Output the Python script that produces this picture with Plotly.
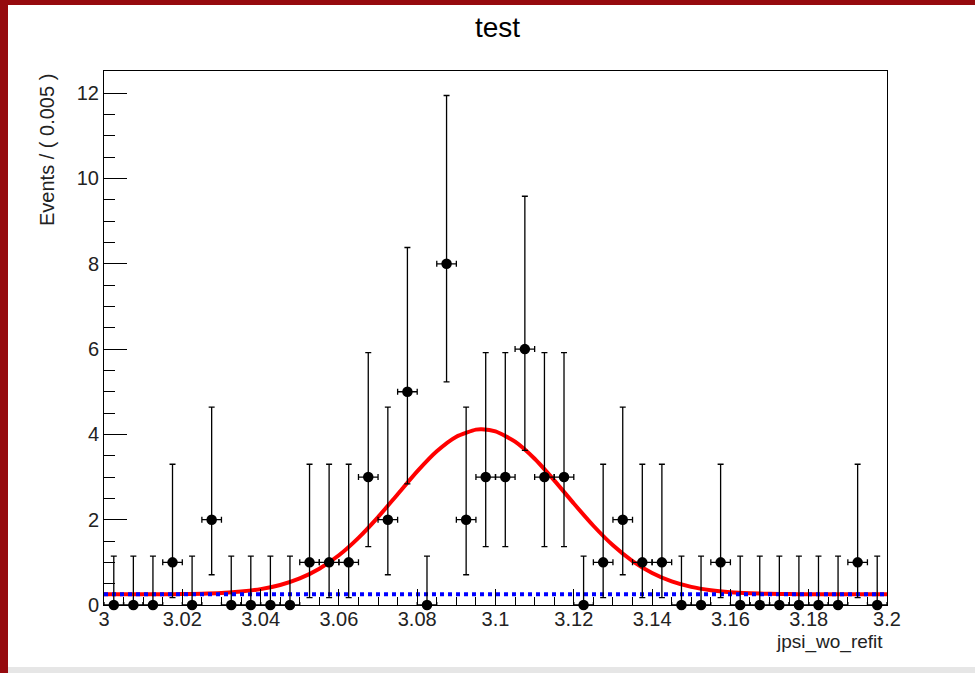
import plotly.graph_objects as go

# ---- data ----
bin_start = 3.0
bin_width = 0.005
counts = [0, 0, 0, 1, 0, 2, 0, 0, 0, 0,
          1, 1, 1, 3, 2, 5, 0, 8, 2, 3,
          3, 6, 3, 3, 0, 1, 2, 1, 1, 0,
          0, 1, 0, 0, 0, 0, 0, 0, 1, 0]
# Poisson (Garwood) error sizes indexed by count
poisson_lo = [0.0, 0.827, 1.291, 1.633, 1.914, 2.160, 2.374, 2.571, 2.768]
poisson_hi = [1.148, 2.300, 2.638, 2.918, 3.163, 3.382, 3.583, 3.770, 3.945]

curve_x = [3.000, 3.005, 3.010, 3.015, 3.020, 3.025, 3.030, 3.035, 3.040, 3.045,
           3.050, 3.055, 3.060, 3.065, 3.070, 3.075, 3.080, 3.085, 3.090, 3.095,
           3.0965, 3.100, 3.105, 3.110, 3.115, 3.120, 3.125, 3.130, 3.135, 3.140,
           3.145, 3.150, 3.155, 3.160, 3.165, 3.170, 3.175, 3.180, 3.185, 3.190,
           3.195, 3.200]
curve_y = [0.250, 0.251, 0.251, 0.253, 0.257, 0.265, 0.282, 0.315, 0.372, 0.470,
           0.623, 0.851, 1.166, 1.574, 2.061, 2.597, 3.133, 3.604, 3.947, 4.111,
           4.120, 4.069, 3.829, 3.428, 2.923, 2.380, 1.858, 1.399, 1.029, 0.750,
           0.554, 0.425, 0.346, 0.299, 0.274, 0.261, 0.255, 0.252, 0.251, 0.250,
           0.250, 0.250]
bkg_x = [3.0, 3.2]
bkg_y = [0.25, 0.25]

x_ticks = [3.0, 3.02, 3.04, 3.06, 3.08, 3.1, 3.12, 3.14, 3.16, 3.18, 3.2]
x_ticktext = ["3", "3.02", "3.04", "3.06", "3.08", "3.1", "3.12", "3.14", "3.16", "3.18", "3.2"]
y_ticks = [0, 2, 4, 6, 8, 10, 12]

# ---- derived ----
centers = [bin_start + bin_width * (i + 0.5) for i in range(len(counts))]
err_hi = [poisson_hi[c] for c in counts]
err_lo = [poisson_lo[c] for c in counts]
half_w = [bin_width / 2] * len(counts)

FONT = "Liberation Sans, Arial, Helvetica, sans-serif"

fig = go.Figure()

fig.add_trace(go.Scatter(
    x=curve_x, y=curve_y, mode="lines",
    line=dict(color="#ff0000", width=4, shape="spline", smoothing=0.6),
    hoverinfo="skip", showlegend=False))

fig.add_trace(go.Scatter(
    x=bkg_x, y=bkg_y, mode="lines",
    line=dict(color="#0000ff", width=4, dash="4px,4px"),
    hoverinfo="skip", showlegend=False))

fig.add_trace(go.Scatter(
    x=centers, y=counts, mode="markers",
    marker=dict(color="black", size=10.5, symbol="circle"),
    error_y=dict(type="data", symmetric=False, array=err_hi, arrayminus=err_lo,
                 color="black", thickness=1.3, width=3),
    error_x=dict(type="data", array=half_w, color="black", thickness=1.3, width=3),
    cliponaxis=False, showlegend=False))

W, H = 975, 673
L, R, T, B = 104, 887, 71, 605
pw, ph = R - L, B - T

def px(xp):
    return (xp - L) / pw

def py(yp):
    return (B - yp) / ph

fig.update_layout(
    width=W, height=H,
    margin=dict(l=L, r=W - R, t=T, b=H - B, pad=0),
    paper_bgcolor="white", plot_bgcolor="white",
    font=dict(family=FONT, size=20, color="black"),
    showlegend=False,
    xaxis=dict(range=[3.0, 3.2], tickvals=x_ticks, ticktext=x_ticktext,
               ticks="inside", ticklen=16, tickwidth=1, tickcolor="black",
               ticklabelstandoff=-4,
               showline=True, linecolor="black", linewidth=1, mirror=True,
               showgrid=False, zeroline=False,
               tickfont=dict(family=FONT, size=20, color="#222"),
               minor=dict(ticks="inside", ticklen=8, tickcolor="black", tickwidth=1,
                          tickmode="linear", tick0=3.0, dtick=0.005, showgrid=False)),
    yaxis=dict(range=[0, 12.52], tickvals=y_ticks,
               ticks="inside", ticklen=23, tickwidth=1, tickcolor="black",
               showline=True, linecolor="black", linewidth=1, mirror=True,
               showgrid=False, zeroline=False,
               tickfont=dict(family=FONT, size=20, color="#222"),
               minor=dict(ticks="inside", ticklen=11, tickcolor="black", tickwidth=1,
                          tickmode="linear", tick0=0, dtick=0.5, showgrid=False)),
    shapes=[
        dict(type="rect", xref="paper", yref="paper", x0=px(0), x1=px(W), y0=py(5), y1=py(0),
             fillcolor="#960a0e", line=dict(width=0), layer="above"),
        dict(type="rect", xref="paper", yref="paper", x0=px(0), x1=px(8), y0=py(H), y1=py(0),
             fillcolor="#960a0e", line=dict(width=0), layer="above"),
        dict(type="rect", xref="paper", yref="paper", x0=px(8), x1=px(W), y0=py(H), y1=py(667),
             fillcolor="#e6e6e6", line=dict(width=0), layer="above"),
    ],
    annotations=[
        dict(text="test", xref="paper", yref="paper", x=px(497), y=py(27),
             xanchor="center", yanchor="middle", showarrow=False,
             font=dict(family=FONT, size=28, color="black")),
        dict(text="Events / ( 0.005 )", xref="paper", yref="paper", x=px(47), y=py(72),
             xanchor="center", yanchor="top", textangle=-90, showarrow=False,
             font=dict(family=FONT, size=20, color="#222")),
        dict(text="jpsi_wo_refit", xref="paper", yref="paper", x=px(885), y=py(642),
             xanchor="right", yanchor="middle", showarrow=False,
             font=dict(family=FONT, size=19, color="#222")),
    ],
)

fig.write_html("out.html")
